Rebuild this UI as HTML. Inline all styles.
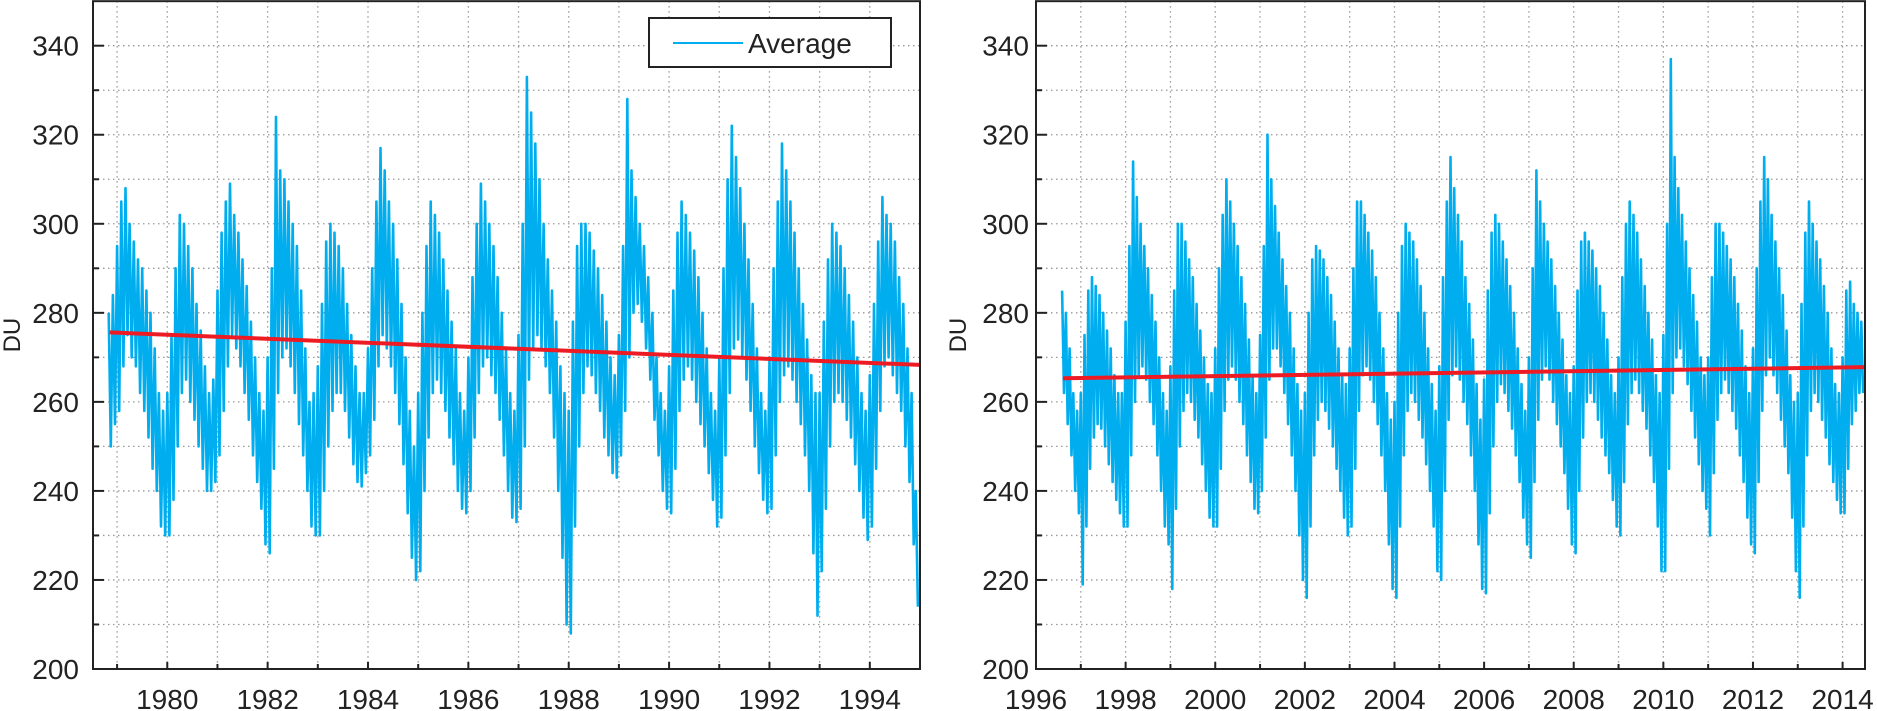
<!DOCTYPE html>
<html><head><meta charset="utf-8">
<style>
html,body{margin:0;padding:0;background:#fff;}
svg{display:block;font-family:"Liberation Sans",Arial,sans-serif;}
</style></head>
<body>
<svg id="chart" width="1877" height="711" viewBox="0 0 1877 711" xmlns="http://www.w3.org/2000/svg"></svg>
<script>
// ---- data ----
const startL = 1978 + 10/12;
const hiL = [280,284,
295,305,308,300,296,292,290,285,280,272,262,258,
262,275,290,302,300,295,290,282,276,268,262,265,
285,298,305,309,302,298,292,286,278,270,262,258,
270,290,324,312,310,305,300,295,285,272,260,262,
268,282,296,300,298,295,290,282,275,268,262,262,
272,290,305,317,312,305,300,292,282,270,258,250,
262,280,295,305,302,298,292,285,278,272,262,258,
270,288,300,309,305,300,295,288,280,272,262,258,
275,300,333,325,318,310,300,292,285,278,268,262,
258,278,295,300,300,298,294,290,284,278,270,266,
275,295,328,312,306,300,295,288,280,270,262,258,
268,285,298,305,302,298,294,288,280,272,262,258,
270,290,310,322,315,308,300,292,282,272,262,258,
270,290,305,318,312,305,298,290,282,274,266,262,
262,278,292,300,298,295,290,284,278,270,262,258,
266,282,296,306,302,300,296,288,282,272,262,240];
const loL = [250,255,
258,268,275,270,268,262,258,252,245,240,232,230,
230,238,250,262,265,260,256,250,245,240,240,242,
248,258,268,275,272,268,262,256,248,242,236,228,
226,245,262,270,272,268,262,255,248,240,232,230,
230,240,250,258,262,262,258,252,246,242,241,244,
248,256,268,275,272,268,262,255,246,235,225,220,
222,240,252,262,265,262,258,252,246,240,236,235,
240,252,262,268,270,266,262,256,248,240,234,233,
236,250,265,272,275,272,268,262,252,240,225,210,
208,232,250,262,268,266,262,258,252,248,244,243,
248,258,270,280,282,278,272,265,256,248,240,236,
235,245,258,265,268,265,260,255,250,244,238,232,
234,248,262,272,274,270,265,258,250,244,238,235,
236,248,260,266,268,265,260,255,248,240,226,212,
222,236,250,260,262,260,256,252,246,240,234,229,
232,245,258,268,270,266,262,258,250,242,228,214];
const trendYearsL = [1978.85, 1995.0];
const trendValsL = [275.6, 268.3];

const startR = 1996 + 7/12;
const hiR = [285,280,272,262,258,
262,275,285,288,286,284,280,276,272,266,262,262,
278,295,314,306,300,295,290,284,278,270,262,258,
268,285,300,300,296,292,288,282,276,270,264,262,
272,290,302,310,305,300,295,288,282,274,266,262,
275,295,320,310,304,298,292,286,280,272,264,258,
262,280,292,295,294,292,288,284,278,272,266,264,
272,290,305,305,302,298,294,288,280,272,262,256,
260,280,295,300,298,296,292,286,280,272,264,258,
268,288,305,315,308,302,296,288,282,274,264,256,
265,285,298,302,300,296,292,286,280,272,264,258,
270,290,312,305,300,296,292,286,280,274,266,262,
268,285,296,298,296,294,290,286,280,274,266,262,
270,288,300,305,302,298,292,286,280,274,266,262,
275,300,337,315,308,302,296,290,284,278,270,266,
270,288,300,300,298,295,292,288,282,276,268,262,
272,290,305,315,310,302,296,290,284,276,266,260,
262,282,298,305,300,296,292,286,280,272,264,262,
270,285,287,282,280,278];
const loR = [262,255,248,240,235,
219,232,245,252,255,254,250,246,242,238,235,232,
232,248,260,266,268,265,260,255,248,240,232,228,
218,236,250,258,262,260,256,252,246,240,234,232,
232,245,258,265,268,265,260,255,248,242,236,235,
240,252,265,272,272,268,262,255,248,240,230,220,
216,232,248,256,260,258,254,250,245,240,234,230,
232,245,258,266,268,265,260,255,248,240,228,218,
216,232,248,258,262,260,256,252,246,240,232,222,
220,240,256,266,268,265,260,255,248,240,228,218,
217,235,250,260,264,262,258,254,248,242,234,228,
225,242,256,265,268,265,260,255,250,244,236,228,
226,240,252,260,262,260,256,252,248,244,238,232,
230,242,255,262,265,262,258,254,248,242,232,222,
222,245,262,270,272,268,264,258,252,246,240,236,
230,244,256,262,265,262,258,254,248,242,234,228,
226,242,258,266,270,266,262,256,250,244,234,222,
216,232,248,258,262,260,256,252,246,242,238,235,
235,245,255,258,262,262];
const trendYearsR = [1996.6, 2014.5];
const trendValsR = [265.3, 267.8];

const yTicks = [200,220,240,260,280,300,320,340];

// ---- drawing ----
const NS = "http://www.w3.org/2000/svg";
const svg = document.getElementById('chart');
function mk(tag, attrs, parent){
  const e = document.createElementNS(NS, tag);
  for (const k in attrs) e.setAttribute(k, attrs[k]);
  (parent||svg).appendChild(e);
  return e;
}

function panel(cfg){
  const g = mk('g', {});
  
  
  const X = v => cfg.x0 + (v - cfg.xmin) / (cfg.xmax - cfg.xmin) * (cfg.x1 - cfg.x0);
  const Y = v => cfg.yb + (v - 200) * (cfg.y340 - cfg.yb) / 140;
  const ytop = Y(350);
  for (let v = 210; v < 350; v += 10) {
    const l = mk('line', {x1:cfg.x0, x2:cfg.x1, y1:Y(v), y2:Y(v), stroke:'#9a9a9a','stroke-width':1.3,'stroke-dasharray':'1.5,3.5'}, g);
    
    
  }
  for (let yr = Math.ceil(cfg.xmin); yr < cfg.xmax; yr++) {
    if (X(yr) - cfg.x0 < 2) continue;
    const l = mk('line', {x1:X(yr), x2:X(yr), y1:ytop, y2:cfg.yb, stroke:'#9a9a9a','stroke-width':1.3,'stroke-dasharray':'1.5,3.5'}, g);
    
    
  }
  let pts = [];
  for (let i = 0; i < cfg.hi.length; i++) {
    const t = cfg.start + i/12;
    pts.push(X(t).toFixed(1)+','+Y(cfg.hi[i]).toFixed(1));
    pts.push(X(t+0.5/12).toFixed(1)+','+Y(cfg.lo[i]).toFixed(1));
  }
  const s = mk('polyline', {points:pts.join(' '), fill:'none', stroke:'#00AEEF','stroke-width':2.6,'stroke-linejoin':'round'}, g);
  
  
  const tr = mk('line', {x1:X(cfg.ty[0]), y1:Y(cfg.tv[0]), x2:X(cfg.ty[1]), y2:Y(cfg.tv[1]), stroke:'#ED1C24','stroke-width':4}, g);
  
  
  const fr = mk('rect', {x:cfg.x0, y:ytop, width:cfg.x1-cfg.x0, height:cfg.yb-ytop, fill:'none', stroke:'#222','stroke-width':2}, g);
  
  
  for (let v = 210; v < 350; v += 10) {
    const major = v % 20 === 0;
    const tk = mk('line', {x1:cfg.x0, x2:cfg.x0+(major?11:6), y1:Y(v), y2:Y(v), stroke:'#222','stroke-width':2}, g);
    
    
  }
  yTicks.forEach(v => {
    const t = mk('text', {x:cfg.labelX, y:Y(v)+10, 'text-anchor':'end','font-size':28, fill:'#222'}, g);
    t.textContent = v;
    
    
  });
  for (let yr = Math.ceil(cfg.xmin); yr <= cfg.xmax; yr++) {
    const major = yr % 2 === 0;
    const tk = mk('line', {x1:X(yr), x2:X(yr), y1:cfg.yb, y2:cfg.yb-(major?7:5), stroke:'#222','stroke-width':2}, g);
    
    
    if (major) {
      const t = mk('text', {x:X(yr), y:cfg.yb+40, 'text-anchor':'middle','font-size':28, fill:'#222'}, g);
      t.textContent = yr;
      
      
    }
  }
  const yt = mk('text', {x:0, y:0, transform:'translate('+cfg.titleX+','+Y(275)+') rotate(-90)', 'text-anchor':'middle','font-size':24, fill:'#222'}, g);
  yt.textContent = 'DU';
  
  
}

panel({name:'left-panel', x0:93, x1:920, xmin:1978.52, xmax:1995.0, yb:669, y340:45.7,
  start:startL, hi:hiL, lo:loL, ty:trendYearsL, tv:trendValsL, labelX:79, titleX:20});
panel({name:'right-panel', x0:1036, x1:1865, xmin:1996.0, xmax:2014.5, yb:669, y340:45.7,
  start:startR, hi:hiR, lo:loR, ty:trendYearsR, tv:trendValsR, labelX:1029, titleX:966});

const lg = mk('g', {});


mk('rect', {x:649, y:18, width:242, height:49, fill:'#fff', stroke:'#222','stroke-width':2}, lg);
const ll = mk('line', {x1:673, x2:743, y1:43, y2:43, stroke:'#00AEEF','stroke-width':2}, lg);


const lt = mk('text', {x:748, y:53, 'font-size':28, fill:'#222'}, lg);
lt.textContent = 'Average';


</script>
</body></html>
